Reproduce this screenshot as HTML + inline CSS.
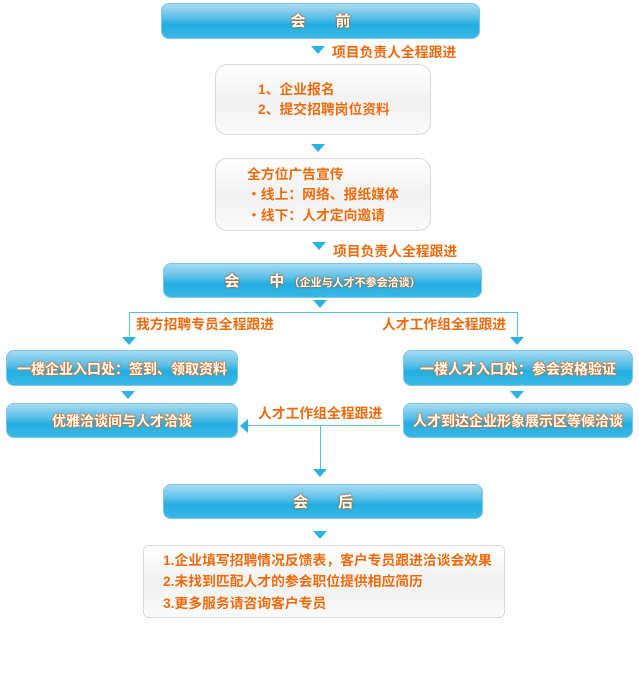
<!DOCTYPE html>
<html><head><meta charset="utf-8"><style>
body{margin:0;width:639px;height:693px;background:#fff;position:relative;overflow:hidden;font-family:"Liberation Sans","Noto Sans CJK SC",sans-serif;font-weight:bold}
.a{position:absolute}
.blue{position:absolute;border-radius:8px;border:1px solid #7cc6e6;background:linear-gradient(#a8dcf2 0%,#5cc0ea 40%,#22aee2 60%,#3bb8e6 100%);box-sizing:border-box;color:#fff;text-align:center;font-size:14px;white-space:nowrap;text-shadow:0 0 2px #f06a0c,0 0 2px #f06a0c,0 0 1px #f06a0c}
.t{text-shadow:0 0 2px #b35a10,0 0 2px #c0650e;font-size:15px}
.gray{position:absolute;border-radius:12px;border:1px solid #d8d8d8;background:linear-gradient(#fff,#f1f1f1 50%,#fafafa);box-sizing:border-box}
.o{position:absolute;color:#f06a0c;font-size:13.8px;white-space:nowrap;text-shadow:0 0 2px #fff}
.tri{position:absolute;width:0;height:0;border-left:7px solid transparent;border-right:7px solid transparent;border-top:8px solid #2ab2e4}
.line{position:absolute;background:#5bbde6}
</style></head><body>
<div class="blue t" style="left:161px;top:3px;width:319px;height:36px;line-height:36px">会　　前</div>
<div class="tri" style="left:311px;top:46px"></div>
<div class="o" style="left:332px;top:41px">项目负责人全程跟进</div>
<div class="gray" style="left:215px;top:64px;width:216px;height:71px"></div>
<div class="o" style="left:258px;top:78px">1、企业报名</div>
<div class="o" style="left:258px;top:98px">2、提交招聘岗位资料</div>
<div class="tri" style="left:311px;top:144px"></div>
<div class="gray" style="left:215px;top:158px;width:216px;height:73px"></div>
<div class="o" style="left:247px;top:163px">全方位广告宣传</div>
<div class="o" style="left:247px;top:183px">・线上：网络、报纸媒体</div>
<div class="o" style="left:247px;top:204px">・线下：人才定向邀请</div>
<div class="tri" style="left:312px;top:242px"></div>
<div class="o" style="left:333px;top:240px">项目负责人全程跟进</div>
<div class="blue t" style="left:163px;top:263px;width:319px;height:35px;line-height:35px">会　　中 <span style="font-size:11px">（企业与人才不参会洽谈）</span></div>
<div class="tri" style="left:313px;top:300px"></div>
<div class="line" style="left:129px;top:312px;width:389px;height:1px"></div>
<div class="line" style="left:129px;top:312px;width:1px;height:26px"></div>
<div class="line" style="left:517px;top:312px;width:1px;height:26px"></div>
<div class="tri" style="left:122px;top:337px"></div>
<div class="tri" style="left:510px;top:337px"></div>
<div class="o" style="left:136px;top:313px">我方招聘专员全程跟进</div>
<div class="o" style="left:382px;top:313px">人才工作组全程跟进</div>
<div class="blue" style="left:6px;top:350px;width:232px;height:36px;line-height:36px">一楼企业入口处：签到、领取资料</div>
<div class="blue" style="left:403px;top:350px;width:230px;height:36px;line-height:36px">一楼人才入口处：参会资格验证</div>
<div class="tri" style="left:121px;top:391px"></div>
<div class="tri" style="left:510px;top:391px"></div>
<div class="blue" style="left:6px;top:403px;width:232px;height:35px;line-height:35px">优雅洽谈间与人才洽谈</div>
<div class="blue" style="left:403px;top:403px;width:230px;height:35px;line-height:35px">人才到达企业形象展示区等候洽谈</div>
<div class="line" style="left:248px;top:425px;width:152px;height:1px"></div>
<div class="a" style="left:240px;top:419px;width:0;height:0;border-top:7px solid transparent;border-bottom:7px solid transparent;border-right:8px solid #2ab2e4"></div>
<div class="o" style="left:258px;top:402px">人才工作组全程跟进</div>
<div class="line" style="left:320px;top:425px;width:1px;height:46px"></div>
<div class="tri" style="left:313px;top:469px"></div>
<div class="blue t" style="left:163px;top:484px;width:320px;height:35px;line-height:35px">会　　后</div>
<div class="tri" style="left:313px;top:531px"></div>
<div class="gray" style="left:143px;top:545px;width:362px;height:73px;border-radius:6px"></div>
<div class="o" style="left:163px;top:549px">1.企业填写招聘情况反馈表，客户专员跟进洽谈会效果</div>
<div class="o" style="left:163px;top:570px">2.未找到匹配人才的参会职位提供相应简历</div>
<div class="o" style="left:163px;top:592px">3.更多服务请咨询客户专员</div>
</body></html>
